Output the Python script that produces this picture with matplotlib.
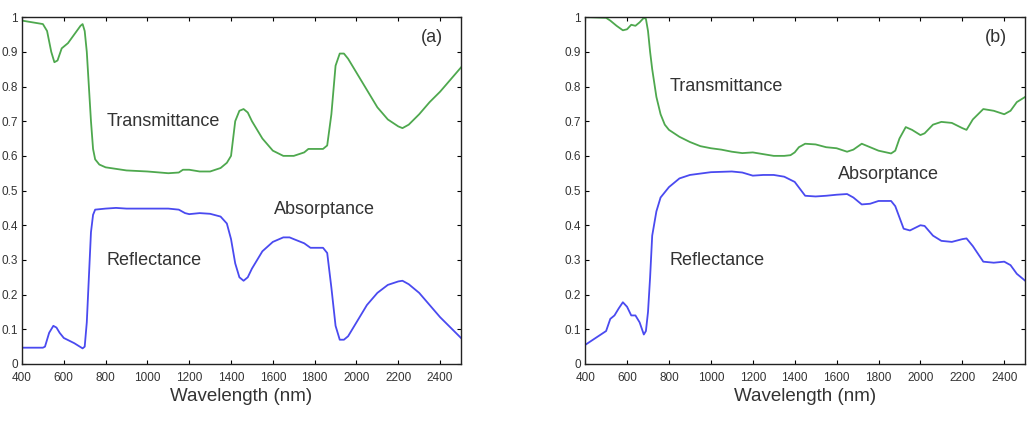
import numpy as np
import matplotlib
matplotlib.use('Agg')
import matplotlib.pyplot as plt

# panel (a)
wl_ta = [400, 450, 500, 520, 540, 555, 570, 590, 620, 650, 680, 690, 700, 710, 720, 730, 740, 750,
         770, 800, 900, 1000, 1100, 1150, 1170, 1200, 1250, 1300, 1350, 1380, 1400, 1420, 1440, 1460,
         1480, 1500, 1550, 1600, 1650, 1700, 1750, 1770, 1800, 1840, 1860, 1880, 1900, 1920, 1940,
         1960, 2000, 2050, 2100, 2150, 2200, 2220, 2250, 2300, 2350, 2400, 2450, 2500]
trans_a = [0.99, 0.985, 0.98, 0.96, 0.90, 0.87, 0.875, 0.91, 0.925, 0.95, 0.975, 0.98, 0.96, 0.90,
           0.80, 0.70, 0.62, 0.59, 0.575, 0.567, 0.558, 0.555, 0.55, 0.552, 0.56, 0.56, 0.555, 0.555,
           0.565, 0.58, 0.60, 0.70, 0.73, 0.735, 0.725, 0.70, 0.65, 0.615, 0.60, 0.60, 0.61, 0.62,
           0.62, 0.62, 0.63, 0.72, 0.86, 0.895, 0.895, 0.88, 0.84, 0.79, 0.74, 0.705, 0.685, 0.68,
           0.69, 0.72, 0.755, 0.785, 0.82, 0.855]

wl_ra = [400, 500, 510, 530, 550, 565, 580, 600, 650, 690, 700, 710, 720, 730, 740, 750, 800, 850,
         900, 1000, 1100, 1150, 1180, 1200, 1250, 1300, 1350, 1380, 1400, 1420, 1440, 1460, 1480,
         1500, 1550, 1600, 1650, 1680, 1700, 1750, 1780, 1800, 1840, 1860, 1880, 1900, 1920, 1940,
         1960, 2000, 2050, 2100, 2150, 2200, 2220, 2250, 2300, 2350, 2400, 2450, 2500]
refl_a = [0.047, 0.047, 0.05, 0.09, 0.11, 0.105, 0.09, 0.075, 0.06, 0.045, 0.05, 0.12, 0.25, 0.38,
          0.43, 0.445, 0.448, 0.45, 0.448, 0.448, 0.448, 0.445, 0.435, 0.432, 0.435, 0.433, 0.425,
          0.405, 0.36, 0.29, 0.25, 0.24, 0.25, 0.275, 0.325, 0.352, 0.365, 0.365, 0.36, 0.348,
          0.335, 0.335, 0.335, 0.32, 0.22, 0.11, 0.07, 0.07, 0.08, 0.12, 0.17, 0.205, 0.228,
          0.238, 0.24, 0.23, 0.205, 0.17, 0.135, 0.105, 0.075]

# panel (b)
wl_tb = [400, 500, 520, 550, 580, 600, 620, 640, 660, 680, 690, 700, 710, 720, 740, 760, 780, 800,
         850, 900, 950, 1000, 1050, 1100, 1150, 1200, 1250, 1300, 1350, 1380, 1400, 1420, 1450,
         1500, 1550, 1600, 1650, 1680, 1720, 1760, 1800, 1860, 1880, 1900, 1930, 1960, 2000, 2020,
         2060, 2100, 2150, 2200, 2220, 2250, 2300, 2350, 2400, 2430, 2460, 2500]
trans_b = [1.0, 0.998, 0.99, 0.975, 0.962, 0.965, 0.978, 0.975, 0.985, 0.998, 0.995, 0.96, 0.90,
           0.85, 0.77, 0.72, 0.69, 0.675, 0.655, 0.64, 0.628, 0.622, 0.618, 0.612, 0.608, 0.61,
           0.605, 0.60, 0.60, 0.602, 0.61, 0.625, 0.635, 0.633, 0.625, 0.622, 0.612, 0.618, 0.635,
           0.625, 0.615, 0.607, 0.615, 0.65, 0.683, 0.675, 0.66, 0.665, 0.69, 0.698, 0.695, 0.68,
           0.675, 0.705, 0.735, 0.73, 0.72, 0.73, 0.755, 0.77]

wl_rb = [400, 450, 500, 520, 540, 560, 580, 600, 620, 640, 660, 680, 690, 700, 710, 720, 740, 760,
         800, 850, 900, 1000, 1100, 1150, 1200, 1250, 1300, 1350, 1400, 1450, 1500, 1550, 1600,
         1650, 1680, 1720, 1760, 1800, 1860, 1880, 1920, 1950, 2000, 2020, 2060, 2100, 2150, 2200,
         2220, 2250, 2300, 2350, 2400, 2430, 2460, 2500]
refl_b = [0.055, 0.075, 0.095, 0.13, 0.14, 0.16, 0.178, 0.165, 0.14, 0.14, 0.12, 0.085, 0.095, 0.15,
          0.25, 0.37, 0.44, 0.48, 0.51, 0.535, 0.545, 0.553, 0.555, 0.552, 0.543, 0.545, 0.545,
          0.54, 0.525, 0.485, 0.483, 0.485, 0.488, 0.49, 0.48, 0.46, 0.462, 0.47, 0.47, 0.455,
          0.39, 0.385, 0.40, 0.398, 0.37, 0.355, 0.352, 0.36, 0.362, 0.34, 0.295, 0.292, 0.295,
          0.285, 0.26, 0.24]

xticks = [400, 600, 800, 1000, 1200, 1400, 1600, 1800, 2000, 2200, 2400]
yticks = [0, 0.1, 0.2, 0.3, 0.4, 0.5, 0.6, 0.7, 0.8, 0.9, 1]
ytick_labels = ['0', '0.1', '0.2', '0.3', '0.4', '0.5', '0.6', '0.7', '0.8', '0.9', '1']

plt.rcParams['font.family'] = ['Liberation Sans', 'DejaVu Sans']

green = '#4ea84e'
blue = '#4a4af0'
txt = '#333333'

fig = plt.figure(figsize=(10.32, 4.23), dpi=100)
ax_a = fig.add_axes([0.0213, 0.1395, 0.4254, 0.820])
ax_b = fig.add_axes([0.567, 0.1395, 0.4264, 0.820])

panels = [
    (ax_a, wl_ta, trans_a, wl_ra, refl_a, '(a)', (805, 0.70), (1603, 0.446), (802, 0.297)),
    (ax_b, wl_tb, trans_b, wl_rb, refl_b, '(b)', (804, 0.80), (1605, 0.547), (804, 0.297)),
]

for ax, wt, t, wr, r, tag, tpos, apos, rpos in panels:
    ax.plot(wt, t, color=green, lw=1.3)
    ax.plot(wr, r, color=blue, lw=1.3)
    ax.set_xlim(400, 2500)
    ax.set_ylim(0, 1)
    ax.set_xticks(xticks)
    ax.set_yticks(yticks)
    ax.set_yticklabels(ytick_labels)
    ax.tick_params(direction='in', length=3, width=0.8, top=True, right=True,
                   labelsize=8.5, labelcolor=txt)
    ax.tick_params(axis='x', pad=6)
    ax.tick_params(axis='y', pad=3)
    for s in ax.spines.values():
        s.set_linewidth(1.0)
        s.set_color('#222222')
    ax.set_xlabel('Wavelength (nm)', fontsize=13.5, color=txt, labelpad=3)
    ax.text(tpos[0], tpos[1], 'Transmittance', fontsize=13, color=txt, va='center')
    ax.text(apos[0], apos[1], 'Absorptance', fontsize=13, color=txt, va='center')
    ax.text(rpos[0], rpos[1], 'Reflectance', fontsize=13, color=txt, va='center')
    ax.text(2307, 0.942, tag, fontsize=13, color=txt, va='center')

fig.savefig('out.png', dpi=100)
